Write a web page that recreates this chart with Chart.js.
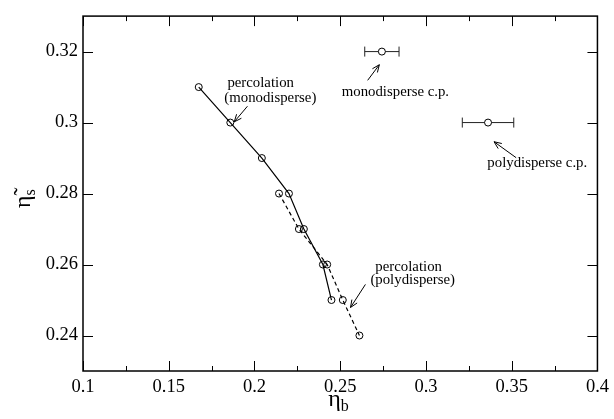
<!DOCTYPE html>
<html>
<head>
<meta charset="utf-8">
<script src="https://cdn.jsdelivr.net/npm/chart.js@4/dist/chart.umd.min.js"></script>
<style>
  html, body { margin: 0; padding: 0; background: #fff; }
  #wrap { width: 614px; height: 419px; }
</style>
</head>
<body>
<div id="wrap"><canvas id="chart"></canvas></div>
<script>
'use strict';

// ====== DATA ======
// percolation line, monodisperse (solid)
const monoEtaB = [0.1675, 0.1859, 0.2043, 0.2201, 0.2288, 0.2399, 0.2449];
const monoEtaS = [0.31, 0.30, 0.29, 0.28, 0.27, 0.26, 0.25];
// percolation line, polydisperse (dashed)
const polyEtaB = [0.2143, 0.2259, 0.2424, 0.2515, 0.2612];
const polyEtaS = [0.28, 0.27, 0.26, 0.25, 0.24];
// critical points with horizontal error bars
const cpEtaB = [0.2743, 0.3362];
const cpEtaS = [0.32, 0.30];
const cpErrB = [0.010, 0.015];

const xTicks = [0.1, 0.15, 0.2, 0.25, 0.3, 0.35, 0.4];
const xMinorTicks = [0.125, 0.175, 0.225, 0.275, 0.325, 0.375];
const yTicks = [0.24, 0.26, 0.28, 0.30, 0.32];

const SERIF = '"Liberation Serif", "DejaVu Serif", serif';

function toPoints(xs, ys) {
    return xs.map((x, i) => ({ x, y: ys[i] }));
}

// ====== ANNOTATIONS (anchored in data units) ======
const notes = [
    { text: 'percolation', x: 0.1842, y: 0.3112 },
    { text: '(monodisperse)', x: 0.1824, y: 0.3069 },
    { text: 'monodisperse c.p.', x: 0.2509, y: 0.3087 },
    { text: 'polydisperse c.p.', x: 0.3358, y: 0.2887 },
    { text: 'percolation', x: 0.2705, y: 0.2592 },
    { text: '(polydisperse)', x: 0.2676, y: 0.2556 }
];
const arrows = [
    { from: [0.1959, 0.3046], to: [0.1882, 0.3002] },
    { from: [0.2660, 0.3119], to: [0.2728, 0.3163] },
    { from: [0.3526, 0.2901], to: [0.3397, 0.2946] },
    { from: [0.2647, 0.2544], to: [0.2560, 0.2479] }
];

// ====== DECORATION PLUGIN ======
const framePlugin = {
    id: 'frame',
    beforeDatasetsDraw(chart) {
        const { ctx, chartArea: a, scales: { x, y } } = chart;
        ctx.save();
        ctx.strokeStyle = '#000';
        ctx.lineWidth = 1.5;
        ctx.strokeRect(a.left, a.top, a.right - a.left, a.bottom - a.top);

        ctx.lineWidth = 1;
        ctx.beginPath();
        xTicks.forEach(v => {
            const px = Math.round(x.getPixelForValue(v)) + 0.5;
            ctx.moveTo(px, a.bottom); ctx.lineTo(px, a.bottom - 10);
            ctx.moveTo(px, a.top); ctx.lineTo(px, a.top + 10);
        });
        xMinorTicks.forEach(v => {
            const px = Math.round(x.getPixelForValue(v)) + 0.5;
            ctx.moveTo(px, a.bottom); ctx.lineTo(px, a.bottom - 5);
            ctx.moveTo(px, a.top); ctx.lineTo(px, a.top + 5);
        });
        yTicks.forEach(v => {
            const py = Math.round(y.getPixelForValue(v)) + 0.5;
            ctx.moveTo(a.left, py); ctx.lineTo(a.left + 10, py);
            ctx.moveTo(a.right, py); ctx.lineTo(a.right - 10, py);
        });
        ctx.stroke();

        // error bars
        ctx.strokeStyle = '#222';
        cpEtaB.forEach((v, i) => {
            const x0 = x.getPixelForValue(v - cpErrB[i]);
            const x1 = x.getPixelForValue(v + cpErrB[i]);
            const py = y.getPixelForValue(cpEtaS[i]);
            ctx.beginPath();
            ctx.moveTo(x0, py); ctx.lineTo(x1, py);
            ctx.moveTo(x0, py - 5); ctx.lineTo(x0, py + 5);
            ctx.moveTo(x1, py - 5); ctx.lineTo(x1, py + 5);
            ctx.stroke();
        });
        ctx.restore();
    },
    afterDraw(chart) {
        const { ctx, chartArea: a, scales: { x, y } } = chart;
        ctx.save();
        ctx.fillStyle = '#000';
        ctx.strokeStyle = '#000';
        ctx.lineWidth = 1;

        // text notes
        ctx.font = '14.8px ' + SERIF;
        ctx.textAlign = 'left';
        ctx.textBaseline = 'middle';
        notes.forEach(n => ctx.fillText(n.text, x.getPixelForValue(n.x), y.getPixelForValue(n.y)));

        // arrows
        arrows.forEach(ar => {
            const x0 = x.getPixelForValue(ar.from[0]), y0 = y.getPixelForValue(ar.from[1]);
            const x1 = x.getPixelForValue(ar.to[0]), y1 = y.getPixelForValue(ar.to[1]);
            const ang = Math.atan2(y1 - y0, x1 - x0);
            const h = 8, spread = 0.4;
            ctx.beginPath();
            ctx.moveTo(x0, y0); ctx.lineTo(x1, y1);
            ctx.moveTo(x1 - h * Math.cos(ang - spread), y1 - h * Math.sin(ang - spread));
            ctx.lineTo(x1, y1);
            ctx.lineTo(x1 - h * Math.cos(ang + spread), y1 - h * Math.sin(ang + spread));
            ctx.stroke();
        });

        // x axis title: eta_b
        const cx = (a.left + a.right) / 2;
        ctx.textBaseline = 'alphabetic';
        ctx.font = '24px ' + SERIF;
        ctx.fillText('η', cx - 12, 406);
        const ew = ctx.measureText('η').width;
        ctx.font = '16px ' + SERIF;
        ctx.fillText('b', cx - 12 + ew, 411);

        // y axis title: eta~_s (rotated)
        ctx.translate(30, 208);
        ctx.rotate(-Math.PI / 2);
        ctx.font = '24px ' + SERIF;
        ctx.fillText('η\u0303', 0, 0);
        const ew2 = ctx.measureText('η').width;
        ctx.font = '16px ' + SERIF;
        ctx.fillText('s', ew2, 5);
        ctx.restore();
    }
};

// ====== CHART ======
const ctxEl = document.getElementById('chart');
new Chart(ctxEl, {
    type: 'scatter',
    data: {
        datasets: [
            {
                label: 'percolation (monodisperse)',
                data: toPoints(monoEtaB, monoEtaS),
                showLine: true,
                borderColor: '#000',
                borderWidth: 1.2,
                pointRadius: 3.5,
                pointBorderWidth: 1,
                pointBorderColor: '#000',
                pointBackgroundColor: 'rgba(0,0,0,0)'
            },
            {
                label: 'percolation (polydisperse)',
                data: toPoints(polyEtaB, polyEtaS),
                showLine: true,
                borderColor: '#000',
                borderWidth: 1.2,
                borderDash: [4, 3],
                pointRadius: 3.5,
                pointBorderWidth: 1,
                pointBorderColor: '#000',
                pointBackgroundColor: 'rgba(0,0,0,0)'
            },
            {
                label: 'critical points',
                data: toPoints(cpEtaB, cpEtaS),
                showLine: false,
                pointRadius: 3.5,
                pointBorderWidth: 1,
                pointBorderColor: '#000',
                pointBackgroundColor: '#fff'
            }
        ]
    },
    options: {
        responsive: true,
        maintainAspectRatio: false,
        animation: false,
        layout: { padding: { top: 10, right: 14, left: 0, bottom: 0 } },
        plugins: { legend: { display: false }, tooltip: { enabled: false } },
        scales: {
            x: {
                type: 'linear',
                min: 0.1,
                max: 0.4,
                afterBuildTicks: s => { s.ticks = xTicks.map(v => ({ value: v })); },
                afterFit: s => { s.height = 48; },
                grid: { display: false, drawTicks: false },
                border: { display: false },
                ticks: {
                    padding: 5,
                    color: '#000',
                    font: { family: SERIF, size: 18.5 },
                    callback: v => String(Number(v.toFixed(3)))
                }
            },
            y: {
                type: 'linear',
                min: 0.23,
                max: 0.33,
                afterBuildTicks: s => { s.ticks = yTicks.map(v => ({ value: v })); },
                afterFit: s => { s.width = 83; },
                grid: { display: false, drawTicks: false },
                border: { display: false },
                ticks: {
                    padding: 5,
                    color: '#000',
                    font: { family: SERIF, size: 18.5 },
                    callback: v => String(Number(v.toFixed(3)))
                }
            }
        }
    },
    plugins: [framePlugin]
});
</script>
</body>
</html>
